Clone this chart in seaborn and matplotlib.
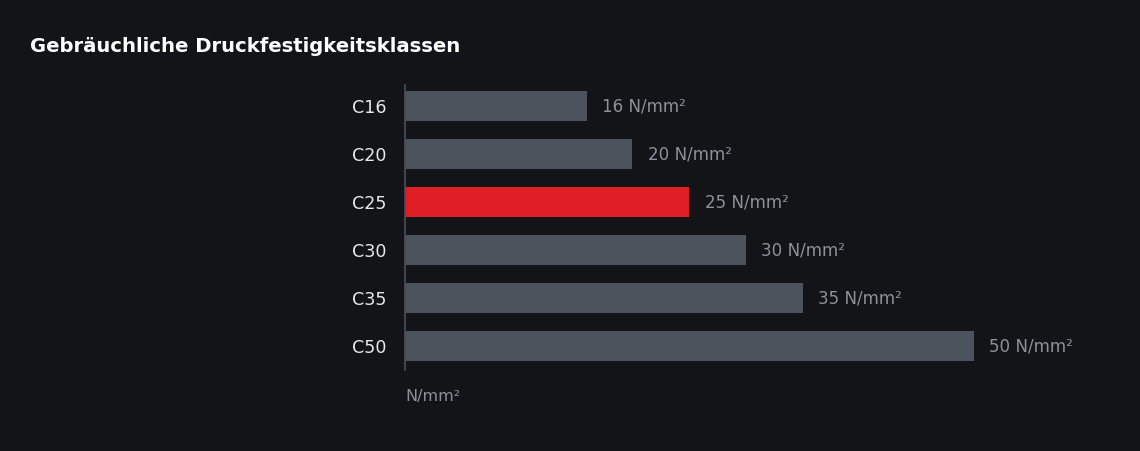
import matplotlib
matplotlib.use('Agg')
import matplotlib.pyplot as plt
import numpy as np
import pandas as pd
import seaborn as sns

# Daten
klassen = ['C16', 'C20', 'C25', 'C30', 'C35', 'C50']
festigkeit = [16, 20, 25, 30, 35, 50]
werte_labels = ['16 N/mm²', '20 N/mm²', '25 N/mm²', '30 N/mm²', '35 N/mm²', '50 N/mm²']
hervorheben = 'C25'

bg = '#121417'
grau = '#4b535c'
rot = '#e01e26'
text_grau = '#8b9197'

sns.set_theme(style='dark')
plt.rcParams['font.family'] = ['DejaVu Sans']

df = pd.DataFrame({'klasse': klassen, 'wert': festigkeit})
farben = {k: (rot if k == hervorheben else grau) for k in klassen}

fig = plt.figure(figsize=(11.4, 4.51), dpi=100, facecolor=bg)
ax = fig.add_axes([405 / 1140, 81 / 451, 705 / 1140, 285 / 451])
ax.set_facecolor(bg)

sns.barplot(data=df, x='wert', y='klasse', hue='klasse', palette=farben,
            legend=False, orient='h', width=0.62, saturation=1,
            edgecolor='none', linewidth=0, ax=ax)

for cont, lab in zip(ax.containers, werte_labels):
    ax.bar_label(cont, labels=[lab], padding=11, color=text_grau, fontsize=12.1)

ax.set_xlim(0, 62)
ax.set_ylim(5.5, -0.44)
ax.set_xticks([])
ax.tick_params(axis='y', length=0, pad=13, labelsize=12.6, labelcolor='#e8e8e8')
ax.set_ylabel('')
ax.set_xlabel('N/mm²', loc='left', color=text_grau, fontsize=11.5, labelpad=14)
ax.grid(False)

for s in ['top', 'right', 'bottom']:
    ax.spines[s].set_visible(False)
ax.spines['left'].set_color('#4a4f56')
ax.spines['left'].set_linewidth(1.2)

fig.text(30 / 1140, 1 - 46 / 451, 'Gebräuchliche Druckfestigkeitsklassen',
         color='white', fontsize=14.1, fontweight='bold', va='center', ha='left')

fig.savefig('out.png', dpi=100, facecolor=bg)
